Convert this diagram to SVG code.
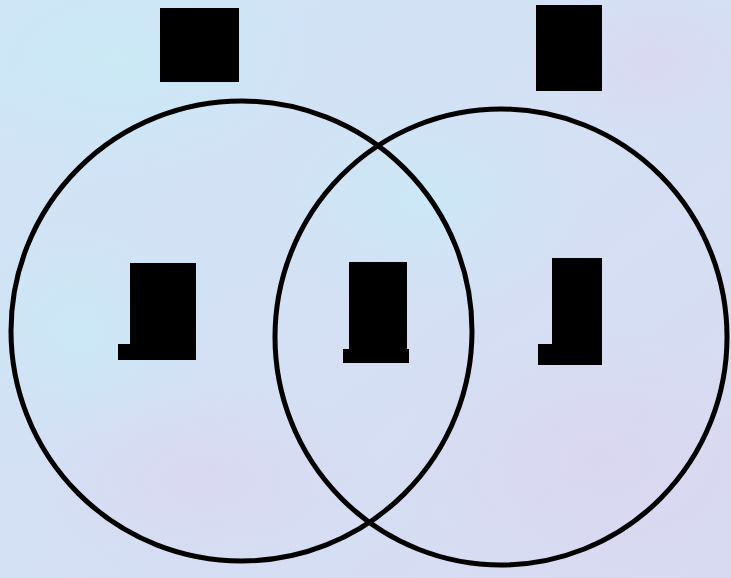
<svg xmlns="http://www.w3.org/2000/svg" width="731" height="578" viewBox="0 0 731 578">
<defs>
<style>
.circ{fill:none;stroke:#000;stroke-width:5}
.blk{fill:#000}
</style>
<linearGradient id="bg" x1="0" y1="0" x2="1" y2="1">
<stop offset="0" stop-color="#d0e5f6"/>
<stop offset="0.5" stop-color="#d4e0f4"/>
<stop offset="1" stop-color="#d8daf1"/>
</linearGradient>
<radialGradient id="b1"><stop offset="0" stop-color="#c8ebf6" stop-opacity="0.7"/><stop offset="1" stop-color="#c8ebf6" stop-opacity="0"/></radialGradient>
<radialGradient id="b2"><stop offset="0" stop-color="#dcd4ef" stop-opacity="0.6"/><stop offset="1" stop-color="#dcd4ef" stop-opacity="0"/></radialGradient>
</defs>
<rect width="731" height="578" fill="url(#bg)"/>
<ellipse cx="120" cy="60" rx="200" ry="120" fill="url(#b1)"/>
<ellipse cx="420" cy="200" rx="160" ry="110" fill="url(#b1)"/>
<ellipse cx="80" cy="330" rx="120" ry="110" fill="url(#b1)"/>
<ellipse cx="600" cy="460" rx="200" ry="130" fill="url(#b2)"/>
<ellipse cx="200" cy="480" rx="180" ry="100" fill="url(#b2)"/>
<ellipse cx="650" cy="60" rx="120" ry="80" fill="url(#b2)"/>
<g id="connectors">
<ellipse class="circ" cx="241.5" cy="331" rx="230.5" ry="230"/>
<ellipse class="circ" cx="501" cy="337" rx="226" ry="228"/>
</g>
<g id="label-top-left"><rect class="blk" x="160" y="8" width="79" height="74"/></g>
<g id="label-top-right"><rect class="blk" x="536" y="5" width="66" height="86"/></g>
<g id="region-left"><path class="blk" d="M130 263H196V360H118V344H130Z"/></g>
<g id="region-middle"><path class="blk" d="M349 262H407V349H409V363H343V349H349Z"/></g>
<g id="region-right"><path class="blk" d="M552 258H602V365H538V344H552Z"/></g>
</svg>
